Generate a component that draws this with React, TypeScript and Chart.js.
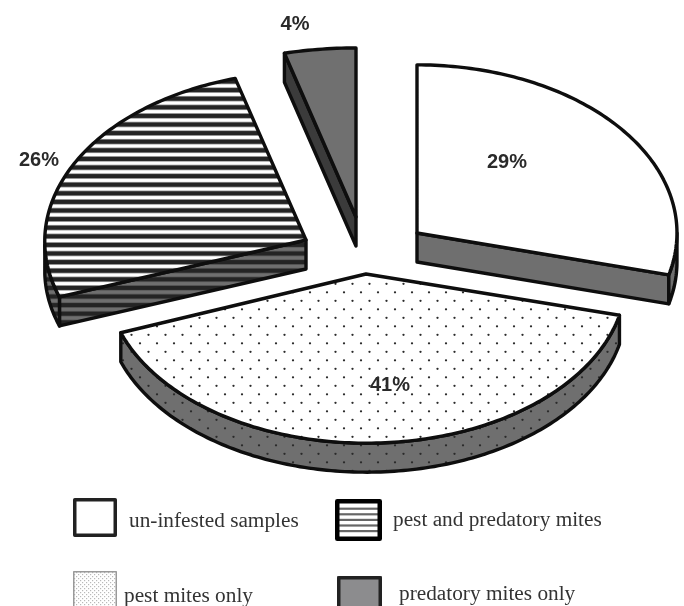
import React, { useEffect, useRef } from "react";
import { Chart, registerables } from "chart.js";

Chart.register(...registerables);

const categories = ["un-infested samples", "pest mites only", "pest and predatory mites", "predatory mites only"];
const shares = [29, 41, 26, 4];

// Exploded position and ellipse shape of each wedge, relative to the pie controller's centre and radius.
const wedgePose = [
  { shiftX: 75, shiftY: -70, sx: 0.858, sy: 0.555, skew: 0, tilt: 0, rimDrop: 0 },
  { shiftX: 24, shiftY: -29, sx: 0.858, sy: 0.545, skew: 0.04, tilt: -0.015, rimDrop: 4 },
  { shiftX: -36, shiftY: -63, sx: 0.862, sy: 0.555, skew: 0.036, tilt: -0.02, rimDrop: 0 },
  { shiftX: 14, shiftY: -86, sx: 0.95, sy: 0.558, skew: 0, tilt: 0, rimDrop: 0 },
];
const wedgeLook = [
  { top: "white", side: "#6f6f6f", wallTexture: null, topTexture: null },
  { top: "white", side: "#6f6f6f", wallTexture: "dots", topTexture: "dots" },
  { top: "white", side: "#6f6f6f", wallTexture: "stripes", topTexture: "stripes" },
  { top: "#707070", side: "#3b3b3b", wallTexture: null, topTexture: null },
];
const labelSpots = [
  { x: 507, y: 168 },
  { x: 390, y: 391 },
  { x: 39, y: 166 },
  { x: 295, y: 30 },
];
const legendRows = [
  { box: [73, 498, 44, 39], text: [129, 527], kind: "plain" },
  { box: [73, 571, 44, 45], text: [124, 602], kind: "stipple" },
  { box: [335, 499, 47, 42], text: [393, 526], kind: "lined" },
  { box: [337, 576, 45, 40], text: [399, 600], kind: "solid" },
];

const EXTRUDE = 29;
const INK = "#0e0e0e";

function stripeTexture(ctx: CanvasRenderingContext2D) {
  const tile = document.createElement("canvas");
  tile.width = 4;
  tile.height = 86;
  const g = tile.getContext("2d")!;
  for (let i = 0; i < 10; i++) {
    const mid = 4.1 + i * 8.6;
    g.fillStyle = "rgba(70,70,70,0.55)";
    g.fillRect(0, mid - 2.8, 4, 5.6);
    g.fillStyle = "#242424";
    g.fillRect(0, mid - 2, 4, 4);
  }
  return ctx.createPattern(tile, "repeat")!;
}

function dotTexture(ctx: CanvasRenderingContext2D) {
  const tile = document.createElement("canvas");
  tile.width = 17;
  tile.height = 17;
  const g = tile.getContext("2d")!;
  g.fillStyle = "#2a2a2a";
  [[4, 3.3], [12.5, 11.8]].forEach(([x, y]) => {
    g.beginPath();
    g.arc(x, y, 1.15, 0, Math.PI * 2);
    g.fill();
  });
  return ctx.createPattern(tile, "repeat")!;
}

function stippleTexture(ctx: CanvasRenderingContext2D) {
  const tile = document.createElement("canvas");
  tile.width = 4;
  tile.height = 4;
  const g = tile.getContext("2d")!;
  g.fillStyle = "#b9b9b9";
  g.fillRect(0, 0, 1.2, 1.2);
  g.fillRect(2, 2, 1.2, 1.2);
  return ctx.createPattern(tile, "repeat")!;
}

type Pt = [number, number];

function trace(ctx: CanvasRenderingContext2D, pts: Pt[]) {
  ctx.beginPath();
  pts.forEach(([x, y], i) => (i ? ctx.lineTo(x, y) : ctx.moveTo(x, y)));
  ctx.closePath();
}

function paint(ctx: CanvasRenderingContext2D, pts: Pt[], base: string, texture?: CanvasPattern | null) {
  trace(ctx, pts);
  ctx.fillStyle = base;
  ctx.fill();
  if (texture) {
    ctx.fillStyle = texture;
    ctx.fill();
  }
  ctx.strokeStyle = INK;
  ctx.lineWidth = 3.4;
  ctx.lineJoin = "round";
  ctx.stroke();
}

const extrudedPie = {
  id: "extrudedPie",
  beforeDatasetsDraw(chart: any) {
    const ctx: CanvasRenderingContext2D = chart.ctx;
    const textures: Record<string, CanvasPattern> = { stripes: stripeTexture(ctx), dots: dotTexture(ctx) };
    const arcs = chart.getDatasetMeta(0).data;
    const order = [3, 2, 0, 1];
    order.forEach((i) => {
      const arc = arcs[i];
      const pose = wedgePose[i];
      const look = wedgeLook[i];
      const a0 = arc.startAngle + Math.PI / 2;
      const a1 = arc.endAngle + Math.PI / 2;
      const cx = arc.x + pose.shiftX;
      const cy = arc.y + pose.shiftY;
      const rx = arc.outerRadius * pose.sx;
      const ry = arc.outerRadius * pose.sy;
      const rim = (t: number): Pt => {
        const dx = rx * Math.sin(t);
        const dy = -ry * Math.cos(t);
        return [cx + dx + pose.skew * dy, cy + dy + pose.tilt * dx + pose.rimDrop];
      };
      const drop = (p: Pt): Pt => [p[0], p[1] + EXTRUDE];
      const apex: Pt = [cx, cy];
      const sweep = (from: number, to: number): Pt[] => {
        const n = Math.max(2, Math.ceil(((to - from) * 180) / Math.PI));
        const out: Pt[] = [];
        for (let k = 0; k <= n; k++) out.push(rim(from + ((to - from) * k) / n));
        return out;
      };
      const wallTex = look.wallTexture ? textures[look.wallTexture] : null;
      const topTex = look.topTexture ? textures[look.topTexture] : null;

      // Cut faces that turn toward the viewer.
      if (Math.sin(a0) < -1e-6) {
        const p = rim(a0);
        paint(ctx, [apex, p, drop(p), drop(apex)], look.side, wallTex);
      }
      if (Math.sin(a1) > 1e-6) {
        const p = rim(a1);
        paint(ctx, [apex, p, drop(p), drop(apex)], look.side, wallTex);
      }
      // Curved outer wall along the front half of the ellipse.
      const from = Math.max(a0, Math.PI / 2);
      const to = Math.min(a1, (3 * Math.PI) / 2);
      if (to > from) {
        const edge = sweep(from, to);
        paint(ctx, [...edge, ...edge.slice().reverse().map(drop)], look.side, wallTex);
      }
      paint(ctx, [apex, ...sweep(a0, a1)], look.top, topTex);
    });

    ctx.save();
    ctx.fillStyle = "#2a2a2a";
    ctx.font = "bold 20px 'Liberation Sans'";
    ctx.textAlign = "center";
    ctx.textBaseline = "alphabetic";
    chart.data.datasets[0].data.forEach((v: number, i: number) => {
      ctx.fillText(`${v}%`, labelSpots[i].x, labelSpots[i].y);
    });
    ctx.restore();
    return false;
  },
  afterDraw(chart: any) {
    const ctx: CanvasRenderingContext2D = chart.ctx;
    ctx.save();
    legendRows.forEach((row, i) => {
      const [x, y, w, h] = row.box;
      if (row.kind === "plain") {
        ctx.fillStyle = "white";
        ctx.fillRect(x, y, w, h);
        ctx.strokeStyle = "#222";
        ctx.lineWidth = 3.5;
        ctx.strokeRect(x + 1.75, y + 1.75, w - 3.5, h - 3.5);
      } else if (row.kind === "stipple") {
        ctx.fillStyle = stippleTexture(ctx);
        ctx.fillRect(x, y, w, h);
        ctx.strokeStyle = "#9a9a9a";
        ctx.lineWidth = 1.5;
        ctx.strokeRect(x + 0.75, y + 0.75, w - 1.5, h - 1.5);
      } else if (row.kind === "lined") {
        ctx.fillStyle = "white";
        ctx.fillRect(x, y, w, h);
        ctx.fillStyle = "#666";
        for (let k = 1; k <= 5; k++) ctx.fillRect(x, y + 4 + k * 5.6 - 1, w, 2.2);
        ctx.strokeStyle = "#000";
        ctx.lineWidth = 4.5;
        ctx.strokeRect(x + 2.25, y + 2.25, w - 4.5, h - 4.5);
      } else {
        ctx.fillStyle = "#8c8c8e";
        ctx.fillRect(x, y, w, h);
        ctx.strokeStyle = "#222";
        ctx.lineWidth = 3.5;
        ctx.strokeRect(x + 1.75, y + 1.75, w - 3.5, h - 3.5);
      }
      ctx.fillStyle = "#333";
      ctx.font = "21.3px 'Liberation Serif'";
      ctx.textAlign = "left";
      ctx.textBaseline = "alphabetic";
      ctx.fillText(chart.data.labels[i], row.text[0], row.text[1]);
    });
    ctx.restore();
  },
};

export default function App() {
  const canvasRef = useRef<HTMLCanvasElement>(null);
  useEffect(() => {
    const chart = new Chart(canvasRef.current!, {
      type: "pie",
      data: { labels: categories, datasets: [{ data: shares, borderWidth: 0 }] },
      options: {
        responsive: false,
        animation: false,
        layout: { padding: 0 },
        plugins: { legend: { display: false }, tooltip: { enabled: false } },
      },
      plugins: [extrudedPie],
    } as any);
    return () => chart.destroy();
  }, []);
  return (
    <div style={{ position: "absolute", left: 0, top: 0, width: 684, height: 606, overflow: "hidden", background: "white" }}>
      <canvas ref={canvasRef} width={684} height={606} style={{ display: "block" }} />
    </div>
  );
}
